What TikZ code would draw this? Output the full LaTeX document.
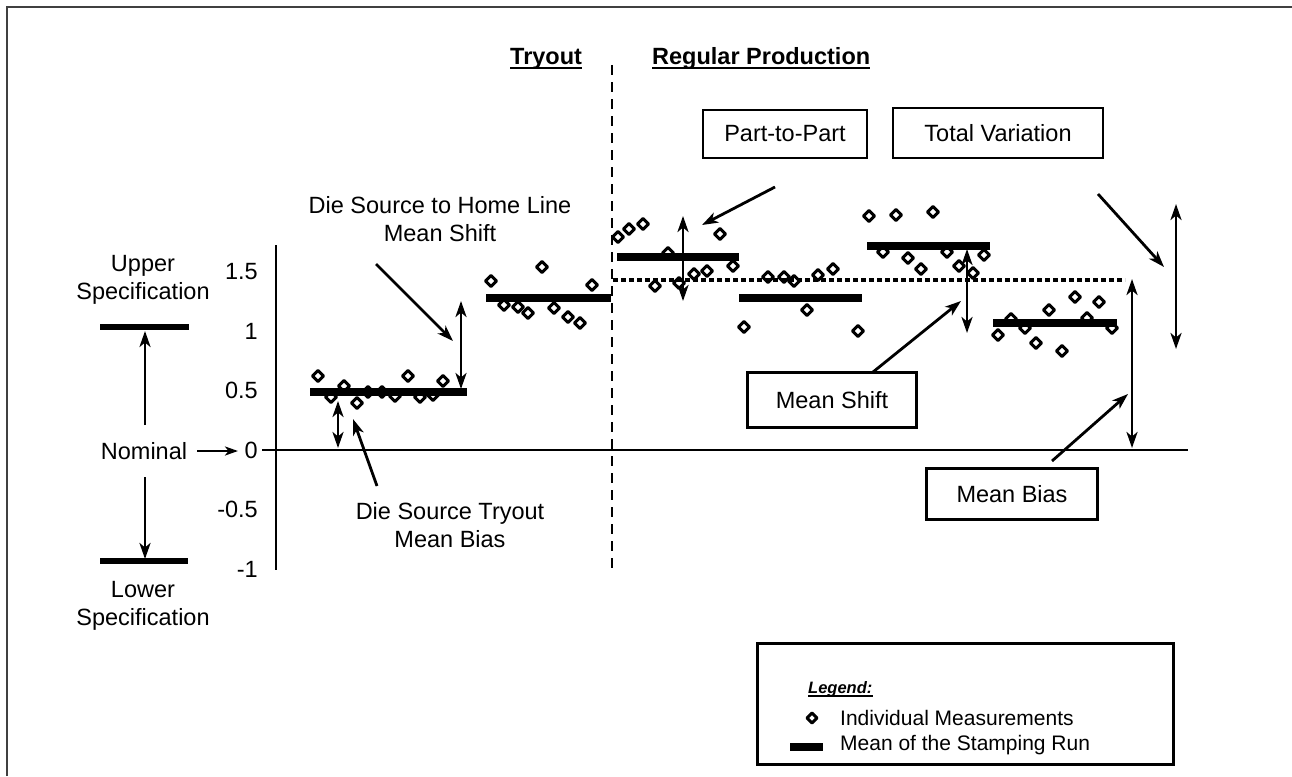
\documentclass[tikz,border=0pt]{standalone}
\usepackage{fontspec}
\setmainfont{Liberation Sans}
\usetikzlibrary{arrows.meta}

\begin{document}
\begin{tikzpicture}[x=1pt,y=-1pt,
  txt/.style={font=\fontsize{23.5}{28}\selectfont, inner sep=0pt, align=center},
  hdr/.style={font=\fontsize{23.5}{28}\selectfont\bfseries, inner sep=0pt, anchor=base west},
  ticklbl/.style={font=\fontsize{23.5}{28}\selectfont, inner sep=0pt, anchor=east},
  callout/.style={draw, line width=2.6pt, inner sep=0pt, font=\fontsize{23.5}{28}\selectfont},
  tip/.tip={Stealth[length=16pt,width=11pt,inset=4.5pt]},
  ptr/.style={line width=2.8pt, -tip},
  dbl/.style={line width=2.8pt, tip-tip},
  axisline/.style={line width=2.8pt},
  meanbar/.style={line width=8.5pt},
  specbar/.style={line width=5.5pt},
  meas/.style={draw, line width=3pt, fill=white, line join=round},
  legendtxt/.style={font=\fontsize{21}{25}\selectfont, inner sep=0pt, anchor=west}]

\useasboundingbox (0,0) rectangle (1292,776);

% page frame (left and top edges)
\draw[line width=2.2pt, black!75] (7,776) -- (7,7) -- (1292,7);

% section headings
\node[hdr] (tryout) at (510,65) {Tryout};
\draw[line width=2pt] ([yshift=-3pt]tryout.base west) -- ([yshift=-3pt]tryout.base east);
\node[hdr] (regprod) at (652,65) {Regular Production};
\draw[line width=2pt] ([yshift=-3pt]regprod.base west) -- ([yshift=-3pt]regprod.base east);

% tryout / production divider
\coordinate (divtop) at (612,65);
\coordinate (divbot) at (612,572);
\draw[line width=2.8pt, dash pattern=on 10pt off 7pt] (divtop) -- (divbot);

% vertical axis and zero line
\coordinate (ytop) at (276,245);
\coordinate (ybot) at (276,570);
\coordinate (zl) at (262,450);
\coordinate (zr) at (1188,450);
\draw[axisline] (ytop) -- (ybot);
\draw[axisline] (zl) -- (zr);

% tick labels: y = 450 - 119*v
\foreach \v/\lab in {1.5/1.5, 1/1, 0.5/0.5, 0/0, -0.5/-0.5, -1/-1}
  \node[ticklbl] at (258,{450-119*\v}) {\lab};

% specification limits
\node[txt] (upper) at (143,280) {Upper\\Specification};
\node[txt] (lower) at (143,606) {Lower\\Specification};
\coordinate (usl1) at (100,327);
\coordinate (usl2) at (189,327);
\coordinate (lsl1) at (100,561);
\coordinate (lsl2) at (188,561);
\draw[specbar] (usl1) -- (usl2);
\draw[specbar] (lsl1) -- (lsl2);
\node[txt] (nominal) at (144,451) {Nominal};
\coordinate (upA) at (145,425);
\coordinate (upB) at (145,331);
\coordinate (dnA) at (145,477);
\coordinate (dnB) at (145,559);
\draw[ptr] (upA) -- (upB);
\draw[ptr] (dnA) -- (dnB);
\coordinate (nomB) at (238,451);
\draw[line width=2.4pt, -{Stealth[length=13pt,width=9pt,inset=3.5pt]}] (nominal.east) ++(10,0) coordinate (nomA) -- (nomB);

% individual measurements
\foreach \x/\y in {
  318/376,331/397,344/386,357/403,368/392,382/392,395/396,408/376,420/397,433/395,443/381,
  491/281,504/305,518/307,528/313,542/267,554/308,568/317,580/323,592/285,
  618/237,629/229,643/224,655/286,668/253,679/283,694/274,707/271,720/234,733/266,
  744/327,768/277,784/277,794/281,807/310,818/275,833/269,858/331,
  869/216,896/215,933/212,883/252,908/258,921/269,947/252,959/266,973/273,984/255,
  998/335,1011/319,1025/328,1036/343,1049/310,1062/351,1075/297,1087/318,1099/302,1112/328}
  \draw[meas] (\x,\y-5.5) -- (\x+5.5,\y) -- (\x,\y+5.5) -- (\x-5.5,\y) -- cycle;

% run means
\draw[meanbar] (310,392) -- (467,392);
\draw[meanbar] (486,298) -- (611,298);
\draw[meanbar] (617,257) -- (739,257);
\draw[meanbar] (739,298) -- (862,298);
\draw[meanbar] (867,246) -- (990,246);
\draw[meanbar] (993,323) -- (1117,323);

% upper envelope of production runs
\coordinate (envL) at (613,280);
\coordinate (envR) at (1125,280);
\draw[line width=3.2pt, dash pattern=on 5pt off 3pt] (envL) -- (envR);

% tryout annotations
\node[txt] (dshome) at (440,219) {Die Source to Home Line\\Mean Shift};
\node[txt] (dstry) at (450,525) {Die Source Tryout\\Mean Bias};
\coordinate (biasT) at (338,401);
\coordinate (biasB) at (338,448);
\draw[dbl] (biasT) -- (biasB);
\coordinate (dstryA) at (377,486);
\coordinate (dstryB) at (353,419);
\draw[ptr] (dstryA) -- (dstryB);
\coordinate (shiftT) at (461,301);
\coordinate (shiftB) at (461,389);
\draw[dbl] (shiftT) -- (shiftB);
\coordinate (dshA) at (376,264);
\coordinate (dshB) at (453,341);
\draw[ptr] (dshA) -- (dshB);

% production call-outs
\node[callout, minimum width=164pt, minimum height=48pt] (ptp) at (785,134) {Part-to-Part};
\node[callout, minimum width=210pt, minimum height=50pt] (tv) at (998,133) {Total Variation};
\node[callout, minimum width=169pt, minimum height=55pt] (ms) at (832,400) {Mean Shift};
\node[callout, minimum width=171pt, minimum height=51pt] (mb) at (1012,494) {Mean Bias};

\coordinate (ptpT) at (683,216);
\coordinate (ptpB) at (683,301);
\draw[dbl] (ptpT) -- (ptpB);
\coordinate (ptpA) at (775,187);
\coordinate (ptpC) at (702,225);
\draw[ptr] (ptpA) -- (ptpC);

\coordinate (msT) at (967,249);
\coordinate (msB) at (967,333);
\draw[dbl] (msT) -- (msB);
\coordinate (msA) at (873,372);
\coordinate (msC) at (961,301);
\draw[ptr] (msA) -- (msC);

\coordinate (mbT) at (1132,279);
\coordinate (mbB) at (1132,448);
\draw[dbl] (mbT) -- (mbB);
\coordinate (mbA) at (1052,461);
\coordinate (mbC) at (1128,394);
\draw[ptr] (mbA) -- (mbC);

\coordinate (tvT) at (1176,204);
\coordinate (tvB) at (1176,349);
\draw[dbl] (tvT) -- (tvB);
\coordinate (tvA) at (1098,194);
\coordinate (tvC) at (1164,267);
\draw[ptr] (tvA) -- (tvC);

% legend
\node[draw, line width=3pt, minimum width=416pt, minimum height=121pt, inner sep=0pt] (legend) at (965,703.5) {};
\node[font=\fontsize{16.5}{20}\selectfont\bfseries\itshape, inner sep=0pt, anchor=base west] (legtitle) at (808,693) {Legend:};
\draw[line width=1.8pt] ([yshift=-3pt]legtitle.base west) -- ([yshift=-3pt]legtitle.base east);
\draw[meas] (812,713) -- (817,718) -- (812,723) -- (807,718) -- cycle;
\node[legendtxt] (legind) at (840,718) {Individual Measurements};
\draw[meanbar] (790,747) -- (823,747);
\node[legendtxt] (legmean) at (840,745) {Mean of the Stamping Run};

\end{tikzpicture}
\end{document}
